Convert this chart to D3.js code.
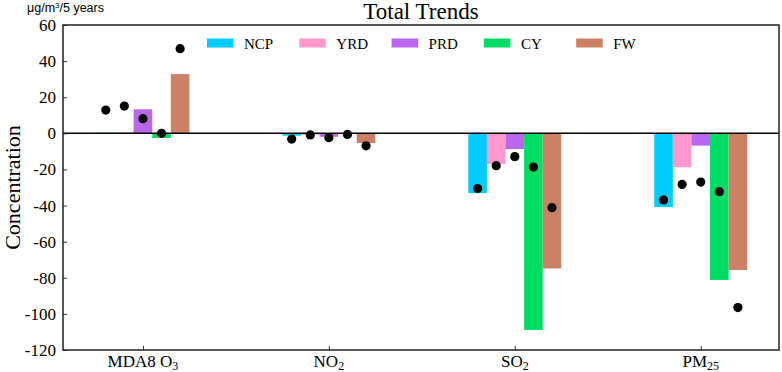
<!DOCTYPE html>
<html><head><meta charset="utf-8">
<script src="https://cdn.jsdelivr.net/npm/d3@7"></script>
<style>body{margin:0;background:#fff;} svg{display:block;}</style>
</head><body>
<svg id="chart" width="782" height="372"></svg>
<script>
const categories = ["MDA8 O3", "NO2", "SO2", "PM25"];
const regions = ["NCP", "YRD", "PRD", "CY", "FW"];
const colors = ["#00CCFF", "#FF99CC", "#BB66EE", "#00DD66", "#CC8066"];
// bar values per region (one entry per category)
const barNCP = [0.3, -1.3, -33.1, -40.8];
const barYRD = [0.5, -0.8, -17.0, -18.8];
const barPRD = [13.3, -1.9, -8.7, -6.8];
const barCY  = [-2.6, -0.3, -108.9, -81.2];
const barFW  = [32.8, -5.4, -74.8, -75.7];
// dot values per region
const dotNCP = [12.9, -3.2, -30.6, -36.9];
const dotYRD = [15.1, -0.9, -17.9, -28.3];
const dotPRD = [8.1, -2.4, -12.9, -27.0];
const dotCY  = [0.0, -0.6, -18.7, -32.3];
const dotFW  = [46.9, -6.9, -41.2, -96.5];
const yTicks = [60, 40, 20, 0, -20, -40, -60, -80, -100, -120];

const bars = [barNCP, barYRD, barPRD, barCY, barFW];
const dots = [dotNCP, dotYRD, dotPRD, dotCY, dotFW];

const svg = d3.select("#chart");
const L = 63, R = 779, T = 25, B = 350;
const barW = 0.1;
const x = d3.scaleLinear().domain([-0.43, 3.421]).range([L, R]);
const y = d3.scaleLinear().domain([-120, 60]).range([B, T]);
const serif = "'Liberation Serif', 'Times New Roman', serif";

// bars
regions.forEach((r, j) => {
  svg.append("g").selectAll("rect").data(bars[j]).join("rect")
    .attr("x", (d, i) => x(i + (j - 2) * barW - barW / 2))
    .attr("width", x(barW) - x(0))
    .attr("y", d => y(Math.max(0, d)))
    .attr("height", d => Math.abs(y(d) - y(0)))
    .attr("fill", colors[j]);
});
// dots
regions.forEach((r, j) => {
  svg.append("g").selectAll("circle").data(dots[j]).join("circle")
    .attr("cx", (d, i) => x(i + (j - 2) * barW))
    .attr("cy", d => y(d))
    .attr("r", 4.6)
    .attr("fill", "#000");
});

// zero line
svg.append("line").attr("x1", L).attr("x2", R).attr("y1", y(0)).attr("y2", y(0))
  .attr("stroke", "#000").attr("stroke-width", 1.5);

// axes
const yAxis = d3.axisLeft(y).tickValues(yTicks).tickFormat(d => String(d))
  .tickSizeInner(-4).tickSizeOuter(0).tickPadding(7);
const gy = svg.append("g").attr("transform", `translate(${L},0)`).call(yAxis)
  .attr("font-family", serif).attr("font-size", 17);
gy.select(".domain").remove();
gy.selectAll("text").attr("fill", "#000");
gy.selectAll("line").attr("stroke", "#333");

const xAxis = d3.axisBottom(x).tickValues([0, 1, 2, 3]).tickSizeInner(-4).tickSizeOuter(0).tickFormat("");
const gx = svg.append("g").attr("transform", `translate(0,${B})`).call(xAxis);
gx.select(".domain").remove();
gx.selectAll("line").attr("stroke", "#333");

// x tick labels with subscripts
const labelParts = [["MDA8 O", "3"], ["NO", "2"], ["SO", "2"], ["PM", "25"]];
categories.forEach((c, i) => {
  const t = svg.append("text").attr("x", x(i)).attr("y", 367)
    .attr("text-anchor", "middle").attr("font-family", serif).attr("font-size", 17).attr("fill", "#000");
  t.append("tspan").text(labelParts[i][0]);
  t.append("tspan").text(labelParts[i][1]).attr("font-size", 12).attr("dy", 3);
});

// frame
svg.append("rect").attr("x", L).attr("y", T).attr("width", R - L).attr("height", B - T)
  .attr("fill", "none").attr("stroke", "#222").attr("stroke-width", 1.5);

// title
svg.append("text").attr("x", (L + R) / 2).attr("y", 19).attr("text-anchor", "middle")
  .attr("font-family", serif).attr("font-size", 23).attr("fill", "#000").text("Total Trends");

// unit label
const u = svg.append("text").attr("x", 27).attr("y", 12).attr("font-family", "'Liberation Sans', Arial, sans-serif")
  .attr("font-size", 12.5).attr("fill", "#000");
u.append("tspan").text("μg/m");
u.append("tspan").text("3").attr("font-size", 8).attr("dy", -4);
u.append("tspan").text("/5 years").attr("dy", 4);

// y label
svg.append("text").attr("transform", `translate(20,${(T + B) / 2}) rotate(-90)`)
  .attr("text-anchor", "middle").attr("font-family", serif).attr("font-size", 22).attr("fill", "#000")
  .text("Concentration");

// legend
const legX0 = 207, legDX = 92.3, legY = 43;
regions.forEach((r, j) => {
  const g = svg.append("g").attr("transform", `translate(${legX0 + j * legDX},${legY})`);
  g.append("rect").attr("x", 0).attr("y", -4.5).attr("width", 26.5).attr("height", 9).attr("fill", colors[j]);
  g.append("text").attr("x", 37).attr("y", 5.5).attr("font-family", serif).attr("font-size", 15)
    .attr("fill", "#000").text(r);
});
</script>
</body></html>
